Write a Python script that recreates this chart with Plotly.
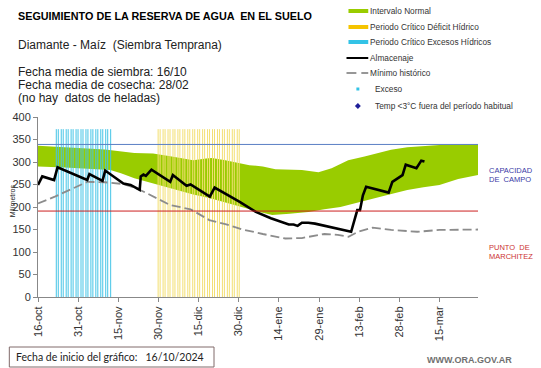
import pandas as pd
import plotly.graph_objects as go

# ---------------- data ----------------
fecha_inicio = "2024-10-16"
dias_fin_eje = 164.4

# Intervalo normal (banda verde): días desde el inicio, mm
banda_dias_sup = [0, 10, 25, 36, 43, 50, 55, 58, 62.8, 65, 70, 79, 84, 88.7, 98.6, 104.8, 109.7, 115.9, 122, 131.9, 138, 144, 150, 164.4]
banda_sup = [336, 333, 328, 320, 319, 312, 307, 304, 308, 309, 304, 293, 290, 284, 282, 277, 286, 304, 312, 327, 333, 336, 338, 339]
banda_dias_inf = [0, 10, 27, 31, 36, 40, 46, 52, 58, 64, 70, 76, 82, 87.5, 94, 101, 107, 113, 119, 125.6, 132, 138, 144, 150, 157, 164.4]
banda_inf = [290, 288, 282, 275, 264, 258, 248, 238, 228, 220, 210, 200, 190, 182, 185, 189, 195, 200, 208, 219, 229, 238, 244, 249, 262, 271]

# Almacenaje (línea negra)
alm_dias = [0, 1.6, 6, 7.3, 18.4, 19.2, 24.1, 25.1, 31.9, 34.6, 38, 38.4, 39.4, 40.3, 42.4, 49.4, 50.4,
            55.5, 57, 64.2, 66, 75.2, 81.4, 87, 93.7, 95.5, 97, 98.6, 101, 103.5, 117, 119.3, 120.3,
            121.4, 122.6, 131, 132.4, 135.2, 136.2, 137.4, 141.4, 143.2, 144.4]
almacenaje = [249, 268, 260, 288, 260, 273, 258, 281, 252, 249, 238, 268, 272, 269, 283, 256, 271,
              247, 250, 223, 243, 212, 189, 175, 161, 161, 158, 165, 165, 163, 145, 193, 193,
              226, 245, 232, 256, 267, 271, 294, 286, 303, 301]

# Mínimo histórico (línea gris a trazos)
min_dias = [0, 6.3, 18.5, 25, 32, 37, 39.5, 45, 49.5, 57, 61.7, 64, 70, 76.5, 84, 92.4, 98.6, 107, 112, 116,
            119.6, 125, 132, 141.7, 150, 164.4]
minimo = [208, 223, 256, 255, 251, 241, 234, 218, 204, 195, 180, 171, 162, 150, 140, 130, 131, 140, 138, 134,
          145, 154, 149, 145, 149, 150]

capacidad_campo = 339
punto_marchitez = 191

# Periodos críticos (días desde el inicio)
exceso_inicio, exceso_fin = 6.6, 27.3
deficit_inicio, deficit_fin = 44.7, 75.2
altura_periodo = 373

tick_dias = [0, 15, 30, 45, 60, 75, 90, 105, 120, 135, 150]
tick_labels = ["16-oct", "31-oct", "15-nov", "30-nov", "15-dic", "30-dic", "14-ene", "29-ene", "13-feb", "28-feb", "15-mar"]

# ---------------- helpers ----------------
t0 = pd.Timestamp(fecha_inicio)


def to_dates(days):
    return [t0 + pd.Timedelta(days=float(d)) for d in days]


FONT = "Liberation Sans, Arial, sans-serif"
W, H = 541, 368
L, R, T, B = 33, 63, 117, 71
PW, PH = W - L - R, H - T - B


def px(x):
    return (x - L) / PW


def py(y):
    return (H - B - y) / PH


fig = go.Figure()

# green band (polygon upper -> lower reversed)
poly_x = to_dates(banda_dias_sup) + to_dates(banda_dias_inf[::-1])
poly_y = banda_sup + banda_inf[::-1]
fig.add_trace(go.Scatter(x=poly_x, y=poly_y, mode="lines", fill="toself", fillcolor="#99cc00",
                         line=dict(width=0, color="#99cc00"), hoverinfo="skip", showlegend=False))


def hatch(start, end, color, step=2.5):
    # vertical hatch lines snapped to whole pixels (style only)
    p_start = L + start / dias_fin_eje * PW
    p_end = L + end / dias_fin_eje * PW
    xs, ys = [], []
    p = p_start
    while p <= p_end + 0.01:
        pix = int(round(p)) + 0.5
        d = (pix - L) / PW * dias_fin_eje
        xs += [t0 + pd.Timedelta(days=d)] * 2 + [None]
        ys += [0, altura_periodo, None]
        p += step
    return go.Scatter(x=xs, y=ys, mode="lines", line=dict(color=color, width=1),
                      hoverinfo="skip", showlegend=False)


fig.add_trace(hatch(exceso_inicio, exceso_fin, "#44c4e6"))
fig.add_trace(hatch(deficit_inicio, deficit_fin, "#f3df72"))

# minimo historico
fig.add_trace(go.Scatter(x=to_dates(min_dias), y=minimo, mode="lines",
                         line=dict(color="#8c8c8c", width=1.8, dash="9px,4px"),
                         hoverinfo="skip", showlegend=False))

fig.update_xaxes(type="date", range=[t0, t0 + pd.Timedelta(days=dias_fin_eje)],
                 tickmode="array", tickvals=to_dates(tick_dias), ticktext=tick_labels,
                 tickangle=-90, ticks="outside", ticklen=4, tickcolor="#888888",
                 showline=True, linecolor="#888888", linewidth=1, showgrid=False, zeroline=False,
                 tickfont=dict(family=FONT, size=11, color="#333333"))
fig.update_yaxes(range=[0, 400], dtick=50, ticks="outside", ticklen=4, tickcolor="#888888",
                 showline=True, linecolor="#888888", linewidth=1, showgrid=False, zeroline=False,
                 tickfont=dict(family=FONT, size=11, color="#333333"))

annotations = []
shapes = []


def text(x, y, s, size, color="#222222", bold=False, xanchor="left", angle=0, family=FONT):
    annotations.append(dict(x=px(x), y=py(y), xref="paper", yref="paper", text=("<b>%s</b>" % s) if bold else s,
                            showarrow=False, xanchor=xanchor, yanchor="middle", textangle=angle,
                            font=dict(family=family, size=size, color=color)))


text(11, 16, "SEGUIMIENTO DE LA RESERVA DE AGUA  EN EL SUELO", 10.8, "#000000", bold=True)
text(11, 45, "Diamante - Maíz  (Siembra Temprana)", 12, "#222222")
text(11, 72, "Fecha media de siembra: 16/10", 12, "#222222")
text(11, 85, "Fecha media de cosecha: 28/02", 12, "#222222")
text(11, 98, "(no hay  datos de heladas)", 12, "#222222")

# legend
leg = [
    (11, "Intervalo Normal"),
    (27, "Periodo Crítico Déficit Hídrico"),
    (42, "Periodo Crítico Excesos Hídricos"),
    (58, "Almacenaje"),
    (73, "Mínimo histórico"),
]
for yy, s in leg:
    text(367, yy, s, 8.3, "#333333")
text(372, 89, "Exceso", 8.3, "#333333")
text(372, 106, "Temp <3°C fuera del período habitual", 8.3, "#333333")

for yy, c in [(11, "#99cc00"), (27, "#f5c400"), (42, "#33c3e6")]:
    shapes.append(dict(type="rect", xref="paper", yref="paper", x0=px(347), x1=px(367), y0=py(yy + 2),
                       y1=py(yy - 2), fillcolor=c, line=dict(width=0), layer="above"))
shapes.append(dict(type="line", xref="paper", yref="paper", x0=px(345), x1=px(367), y0=py(58), y1=py(58),
                   line=dict(color="#000000", width=2)))
shapes.append(dict(type="line", xref="paper", yref="paper", x0=px(345), x1=px(355), y0=py(73), y1=py(73),
                   line=dict(color="#8c8c8c", width=1.8)))
shapes.append(dict(type="line", xref="paper", yref="paper", x0=px(360), x1=px(367), y0=py(73), y1=py(73),
                   line=dict(color="#8c8c8c", width=1.8)))
shapes.append(dict(type="rect", xref="paper", yref="paper", x0=px(355), x1=px(358), y0=py(90.5), y1=py(87.5),
                   fillcolor="#33c3e6", line=dict(width=0)))
shapes.append(dict(type="path", xref="paper", yref="paper",
                   path="M %f %f L %f %f L %f %f L %f %f Z" % (px(356.5), py(103), px(359.5), py(106),
                                                               px(356.5), py(109), px(353.5), py(106)),
                   fillcolor="#1f1f99", line=dict(width=0)))

# right labels
text(487, 170, "CAPACIDAD", 7.5, "#3a3aa6")
text(487, 179, "DE  CAMPO", 7.5, "#3a3aa6")
text(487, 247, "PUNTO  DE", 7.5, "#cc3333")
text(487, 256, "MARCHITEZ", 7.5, "#cc3333")

# y title
text(7, 201, "Milímetros", 7, "#222222", xanchor="center", angle=-90)

# bottom box
shapes.append(dict(type="rect", xref="paper", yref="paper", x0=px(4), x1=px(211), y0=py(367), y1=py(347),
                   line=dict(color="#806a6a", width=1), fillcolor="rgba(0,0,0,0)"))
text(9, 357, "Fecha de inicio del gráfico:   16/10/2024", 10.5, "#222222", family="Lato, sans-serif")
text(424, 360, "WWW.ORA.GOV.AR", 9, "#707070", bold=True)

fig.update_layout(width=W, height=H, margin=dict(l=L, r=R, t=T, b=B),
                  paper_bgcolor="white", plot_bgcolor="white", showlegend=False,
                  annotations=annotations, shapes=shapes)

# horizontal reference lines (added after layout shapes so nothing is merged)
fig.add_hline(y=capacidad_campo, line=dict(color="#5a7fc4", width=1))
fig.add_hline(y=punto_marchitez, line=dict(color="#cc1f1f", width=1))

# almacenaje
fig.add_trace(go.Scatter(x=to_dates(alm_dias), y=almacenaje, mode="lines",
                         line=dict(color="#000000", width=2.6), hoverinfo="skip", showlegend=False))

fig.write_html("out.html", config={"displayModeBar": False},
               post_script="document.body.style.margin='0';document.body.style.overflow='hidden';")
